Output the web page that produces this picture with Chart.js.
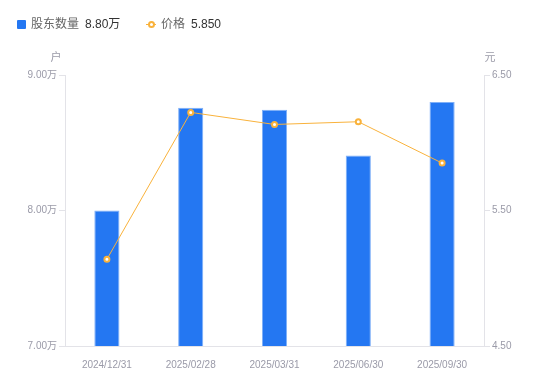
<!DOCTYPE html>
<html>
<head>
<meta charset="utf-8">
<script src="https://cdn.jsdelivr.net/npm/chart.js@4/dist/chart.umd.min.js"></script>
<style>
  body { margin: 0; background: #fff; font-family: "Liberation Sans", "Noto Sans CJK SC", sans-serif; }
  #wrap { position: relative; width: 550px; height: 381px; }
  #legend { position: absolute; left: 0; top: 0; width: 550px; height: 40px; font-size: 12px; }
  #legend span { position: absolute; top: 17px; line-height: 15px; white-space: nowrap; }
  .name { color: #666; }
  .val { color: #333; }
  .box { position: absolute; left: 17px; top: 20px; width: 9px; height: 9px; background: #2477f2; border-radius: 1px; }
  .dot { position: absolute; left: 146px; top: 24px; width: 10px; height: 1px; background: #f9b23b; }
  .dot i { position: absolute; left: 2px; top: -3px; width: 3px; height: 3px; border: 2px solid #f9b23b; border-radius: 50%; background: #fff; }
</style>
</head>
<body>
<div id="wrap">
  <canvas id="holderChart" width="550" height="381"></canvas>
  <div id="legend">
    <div class="box"></div>
    <span class="name" style="left:31px">股东数量</span>
    <span class="val" style="left:85px">8.80万</span>
    <div class="dot"><i></i></div>
    <span class="name" style="left:161px">价格</span>
    <span class="val" style="left:191px">5.850</span>
  </div>
</div>
<script>
// report dates
const dates = ['2024/12/31', '2025/02/28', '2025/03/31', '2025/06/30', '2025/09/30'];
// shareholder count, in 万 (10k) holders
const holders = [8.00, 8.758, 8.744, 8.405, 8.80];
// share price, 元
const prices = [5.14, 6.224, 6.135, 6.155, 5.85];

const tickColor = '#9a9aa8';
const lineGray = '#e3e3e8';

// axis unit labels above each y axis
const unitTitles = {
    id: 'unitTitles',
    afterDraw(chart) {
        const ctx = chart.ctx;
        ctx.save();
        ctx.font = '11px "Liberation Sans", "Noto Sans CJK SC", sans-serif';
        ctx.fillStyle = tickColor;
        ctx.textAlign = 'center';
        ctx.textBaseline = 'middle';
        ctx.fillText('户', chart.scales.yL.right - 9, chart.chartArea.top - 17);
        ctx.fillText('元', chart.scales.yR.left + 6, chart.chartArea.top - 17);
        ctx.restore();
    }
};

document.addEventListener('DOMContentLoaded', function() {
    const ctx = document.getElementById('holderChart').getContext('2d');

    new Chart(ctx, {
        data: {
            labels: dates,
            datasets: [
                {
                    type: 'line',
                    label: '价格',
                    data: prices,
                    yAxisID: 'yR',
                    order: 0,
                    borderColor: '#f9b23b',
                    borderWidth: 1,
                    pointRadius: 2.5,
                    pointBorderWidth: 2,
                    pointBackgroundColor: '#fff',
                    pointBorderColor: '#f9b23b',
                    tension: 0
                },
                {
                    type: 'bar',
                    label: '股东数量',
                    data: holders,
                    yAxisID: 'yL',
                    order: 1,
                    backgroundColor: '#2477f2',
                    borderColor: '#7fb0f8',
                    borderWidth: 1,
                    borderSkipped: 'bottom',
                    barPercentage: 0.3,
                    categoryPercentage: 1
                }
            ]
        },
        options: {
            responsive: false,
            animation: false,
            layout: { padding: { top: 75, left: 0, right: 0, bottom: 0 } },
            font: { family: '"Liberation Sans", "Noto Sans CJK SC", sans-serif' },
            plugins: {
                legend: { display: false },
                tooltip: { enabled: false }
            },
            scales: {
                x: {
                    grid: { display: false },
                    border: { display: true, color: lineGray },
                    ticks: { color: tickColor, font: { size: 10 }, padding: 5, maxRotation: 0 },
                    afterFit(scale) { scale.height = 35; }
                },
                yL: {
                    position: 'left',
                    min: 7, max: 9,
                    grid: { drawOnChartArea: false, drawTicks: true, tickLength: 6, color: lineGray },
                    border: { display: true, color: lineGray },
                    ticks: {
                        stepSize: 1, padding: 2, color: tickColor, font: { size: 10 },
                        callback: v => v.toFixed(2) + '万'
                    },
                    afterFit(scale) { scale.width = 65; }
                },
                yR: {
                    position: 'right',
                    min: 4.5, max: 6.5,
                    grid: { drawOnChartArea: false, drawTicks: true, tickLength: 6, color: lineGray },
                    border: { display: true, color: lineGray },
                    ticks: {
                        stepSize: 1, padding: 2, color: tickColor, font: { size: 10 },
                        callback: v => v.toFixed(2)
                    },
                    afterFit(scale) { scale.width = 66; }
                }
            }
        },
        plugins: [unitTitles]
    });
});
</script>
</body>
</html>
